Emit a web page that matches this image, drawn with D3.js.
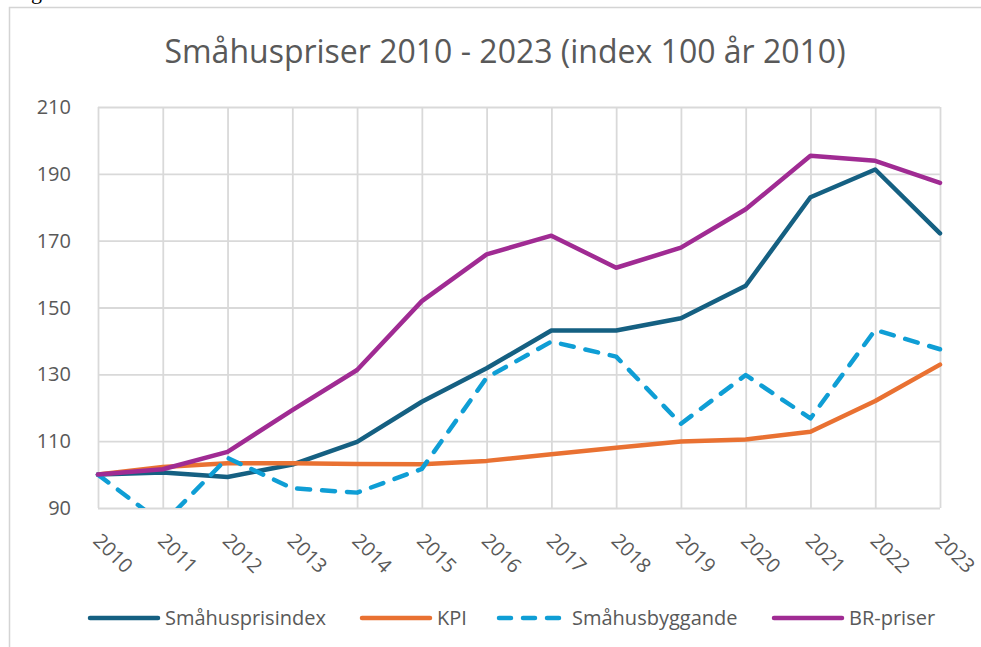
<!DOCTYPE html>
<html>
<head>
<meta charset="utf-8">
<script src="https://cdnjs.cloudflare.com/ajax/libs/d3/7.8.5/d3.min.js"></script>
<style>
  body { margin: 0; background: #fff; }
  text { font-family: "Open Sans", sans-serif; fill: #595959; }
</style>
</head>
<body>
<div id="chart"></div>
<script>

// DATA (index 100 = 2010)

var years = [2010, 2011, 2012, 2013, 2014, 2015, 2016, 2017, 2018, 2019, 2020, 2021, 2022, 2023]

var smahusprisindex = [100, 100.6, 99.3, 103, 109.8, 121.8, 131.8, 143.1, 143.1, 146.8, 156.5, 183, 191.3, 172.2]
var kpi = [100, 102.3, 103.4, 103.4, 103.2, 103.1, 104.1, 106.1, 108, 109.9, 110.5, 112.8, 122, 132.9]
var smahusbyggande = [100, 85.3, 105, 95.9, 94.6, 101.7, 129, 139.8, 135.3, 115.2, 129.8, 116.8, 143.3, 137.5]
var brpriser = [100, 101.6, 106.8, 119.3, 131.3, 151.9, 165.9, 171.5, 161.9, 167.9, 179.4, 195.4, 193.9, 187.3]

var yTicks = [90, 110, 130, 150, 170, 190, 210]

var seriesNames = ["Småhusprisindex", "KPI", "Småhusbyggande", "BR-priser"]
var seriesColors = ["#156082", "#E97132", "#0F9ED5", "#A02B93"]

var series = [
  {name: seriesNames[0], values: smahusprisindex, color: seriesColors[0], dash: null},
  {name: seriesNames[1], values: kpi, color: seriesColors[1], dash: null},
  {name: seriesNames[2], values: smahusbyggande, color: seriesColors[2], dash: "13,12"},
  {name: seriesNames[3], values: brpriser, color: seriesColors[3], dash: null}
]

// SVG + DIMENSIONS

var W = 981, H = 647
var plot = {left: 98, right: 940, top: 107, bottom: 508}

var svg = d3.select("#chart").append("svg")
    .attr("width", W)
    .attr("height", H)

// frame of the pasted chart + bit of document text above it
svg.append("path")
    .attr("d", "M9.5," + H + " V7.5 H" + W)
    .attr("fill", "none")
    .attr("stroke", "#d4d4d4")
    .attr("stroke-width", 1.5)

svg.append("text")
    .attr("x", 31)
    .attr("y", -1)
    .style("font-family", "'Liberation Serif', serif")
    .style("font-size", "22px")
    .style("fill", "#000")
    .text("g")

// SCALES

var scaleX = d3.scalePoint()
    .domain(years)
    .range([plot.left, plot.right])

var scaleY = d3.scaleLinear()
    .domain([90, 210])
    .range([plot.bottom, plot.top])

// GRID

svg.append("g")
    .attr("transform", "translate(0," + plot.bottom + ")")
    .call(d3.axisBottom(scaleX).tickSize(-(plot.bottom - plot.top)).tickFormat(""))
    .call(g => g.select(".domain").remove())
    .call(g => g.selectAll(".tick line").attr("stroke", "#d9d9d9").attr("stroke-width", 1.8))

svg.append("g")
    .attr("transform", "translate(" + plot.left + ",0)")
    .call(d3.axisLeft(scaleY).tickValues(yTicks).tickSize(-(plot.right - plot.left)).tickFormat(""))
    .call(g => g.select(".domain").remove())
    .call(g => g.selectAll(".tick line").attr("stroke", "#d9d9d9").attr("stroke-width", 1.8))

// Y LABELS

svg.append("g")
    .selectAll("text")
    .data(yTicks)
    .enter()
    .append("text")
    .attr("x", 71)
    .attr("y", d => scaleY(d))
    .attr("dy", "0.35em")
    .attr("text-anchor", "end")
    .style("font-size", "20px")
    .text(d => d)

// X LABELS (rotated 45)

svg.append("g")
    .selectAll("text")
    .data(years)
    .enter()
    .append("text")
    .attr("transform", d => "translate(" + (scaleX(d) - 6) + ",542) rotate(45)")
    .style("font-size", "20px")
    .text(d => d)

// LINES

svg.append("clipPath")
    .attr("id", "clip")
    .append("rect")
    .attr("x", plot.left - 5)
    .attr("y", plot.top - 5)
    .attr("width", plot.right - plot.left + 10)
    .attr("height", plot.bottom - plot.top + 5)

var line = d3.line()
    .x((d, i) => scaleX(years[i]))
    .y(d => scaleY(d))

svg.append("g")
    .attr("clip-path", "url(#clip)")
    .selectAll("path")
    .data(series)
    .enter()
    .append("path")
    .attr("d", d => line(d.values))
    .attr("fill", "none")
    .attr("stroke", d => d.color)
    .attr("stroke-width", 4.5)
    .attr("stroke-linejoin", "round")
    .attr("stroke-linecap", "round")
    .attr("stroke-dasharray", d => d.dash)

// TITLE

svg.append("text")
    .attr("x", 505)
    .attr("y", 63)
    .attr("text-anchor", "middle")
    .style("font-size", "32px")
    .text("Småhuspriser 2010 - 2023 (index 100 år 2010)")

// LEGEND

var legendX = [88, 360, 497, 772]
var legend = svg.append("g")
    .selectAll("g")
    .data(series)
    .enter()
    .append("g")
    .attr("transform", (d, i) => "translate(" + legendX[i] + ",618)")

legend.append("line")
    .attr("x1", 2)
    .attr("x2", d => d.dash ? 64 : 70)
    .attr("stroke", d => d.color)
    .attr("stroke-width", 4.5)
    .attr("stroke-linecap", "round")
    .attr("stroke-dasharray", d => d.dash ? "12,12" : null)

legend.append("text")
    .attr("x", d => d.dash ? 75 : 77)
    .attr("dy", "0.35em")
    .style("font-size", "20px")
    .text(d => d.name)

</script>
</body>
</html>
